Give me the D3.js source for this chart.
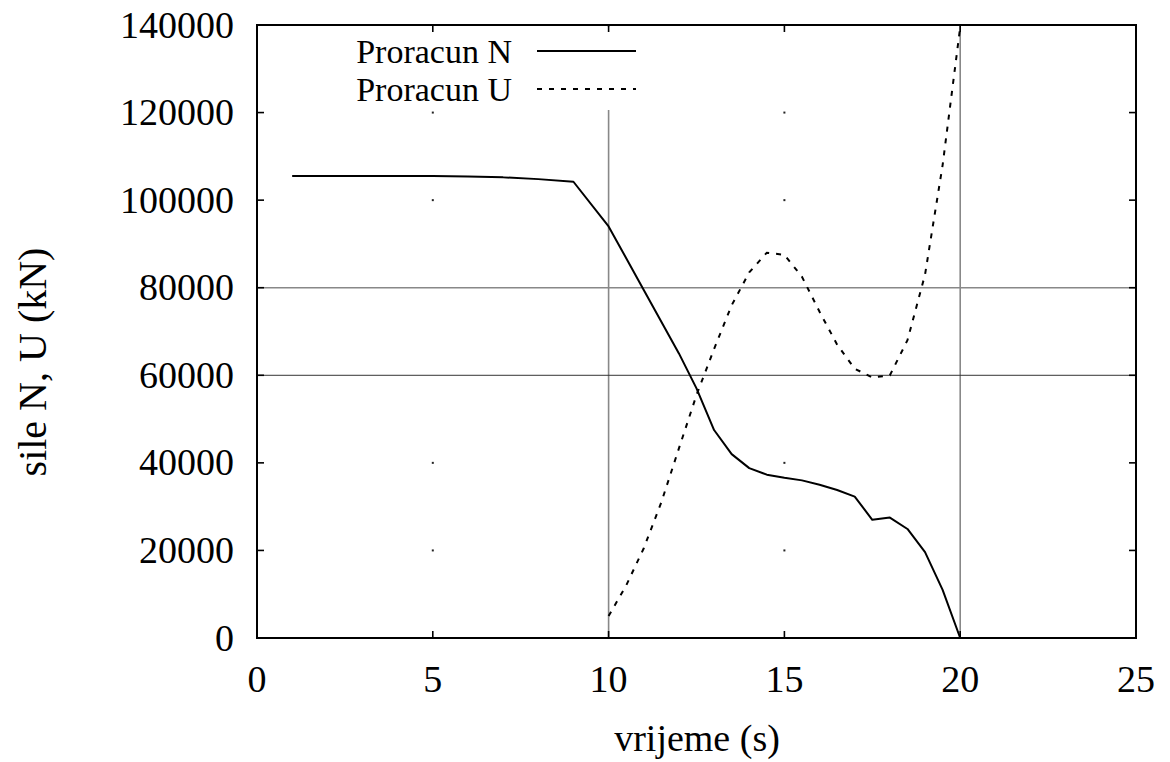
<!DOCTYPE html>
<html>
<head>
<meta charset="utf-8">
<script src="https://cdn.jsdelivr.net/npm/d3@7"></script>
<style>
  html, body { margin: 0; padding: 0; background: #fff; }
  svg { display: block; }
</style>
</head>
<body>
<svg id="chart" width="1170" height="762"></svg>
<script>
// ---- data ----
const xTicks = [0, 5, 10, 15, 20, 25];
const yTicks = [0, 20000, 40000, 60000, 80000, 100000, 120000, 140000];
const seriesNames = ["Proracun N", "Proracun U"];

const nTime  = [1, 5, 6, 7, 8, 9, 10, 11, 12, 12.5, 13, 13.5, 14, 14.5, 15, 15.5, 16, 16.5, 17, 17.5, 18, 18.5, 19, 19.5, 20];
const nForce = [105500, 105500, 105400, 105200, 104800, 104200, 94000, 79500, 65000, 57000, 47500, 42000, 38800, 37300, 36600, 36000, 35000, 33800, 32300, 27000, 27500, 24900, 19600, 11000, 0];

const uTime  = [10, 10.5, 11, 11.5, 12, 12.5, 13, 13.5, 14, 14.5, 15, 15.5, 16, 16.5, 17, 17.5, 18, 18.5, 19, 19.5, 20];
const uForce = [5000, 12000, 20500, 31000, 43300, 55500, 66000, 76000, 83500, 88000, 87500, 82500, 74500, 67000, 61500, 59500, 60000, 68000, 83000, 108000, 139500];

// grid lines drawn solid in the reference
const gridX = [10, 20];
const gridYGray = [80000];
const gridYDark = [60000];
// grid dots at remaining intersections
const dotX = [5, 15];
const dotY = [20000, 40000, 100000, 120000];

// ---- layout ----
const FONT = "'Liberation Serif', 'Tinos', 'Times New Roman', Times, 'DejaVu Serif', serif";
const svg = d3.select("#chart");
const L = 257, R = 1136, T = 25, B = 638;
const x = d3.scaleLinear().domain([0, 25]).range([L, R]);
const y = d3.scaleLinear().domain([0, 140000]).range([B, T]);
const FS = 38;

// grid
const g = svg.append("g");
g.selectAll(".gx").data(gridX).join("line")
  .attr("x1", d => x(d)).attr("x2", d => x(d)).attr("y1", T).attr("y2", B)
  .attr("stroke", "#888").attr("stroke-width", 1.6);
g.selectAll(".gyg").data(gridYGray).join("line")
  .attr("x1", L).attr("x2", R).attr("y1", d => y(d)).attr("y2", d => y(d))
  .attr("stroke", "#888").attr("stroke-width", 1.6);
g.selectAll(".gyd").data(gridYDark).join("line")
  .attr("x1", L).attr("x2", R).attr("y1", d => y(d)).attr("y2", d => y(d))
  .attr("stroke", "#333").attr("stroke-width", 1);
const dots = [];
dotX.forEach(a => dotY.forEach(b => dots.push([a, b])));
g.selectAll(".dot").data(dots).join("rect")
  .attr("x", d => x(d[0]) - 1).attr("y", d => y(d[1]) - 1)
  .attr("width", 2).attr("height", 2).attr("fill", "#222");

// legend background (opaque key box hides grid)
svg.append("rect").attr("x", 345).attr("y", 27).attr("width", 300).attr("height", 83).attr("fill", "#fff");

// curves
const line = d3.line().x(d => x(d[0])).y(d => y(d[1]));
const nData = nTime.map((t, i) => [t, nForce[i]]);
const uData = uTime.map((t, i) => [t, uForce[i]]);
svg.append("path").datum(nData).attr("d", line)
  .attr("fill", "none").attr("stroke", "#000").attr("stroke-width", 2).attr("stroke-linejoin", "round");
svg.append("path").datum(uData).attr("d", line)
  .attr("fill", "none").attr("stroke", "#000").attr("stroke-width", 2).attr("stroke-dasharray", "5,7");

// border
svg.append("rect").attr("x", L).attr("y", T).attr("width", R - L).attr("height", B - T)
  .attr("fill", "none").attr("stroke", "#000").attr("stroke-width", 2);

// ticks (inward, mirrored)
const tl = 7;
const tk = svg.append("g").attr("stroke", "#000").attr("stroke-width", 1.6);
tk.selectAll(".xb").data(xTicks).join("line")
  .attr("x1", d => x(d)).attr("x2", d => x(d)).attr("y1", B).attr("y2", B - tl);
tk.selectAll(".xt").data(xTicks).join("line")
  .attr("x1", d => x(d)).attr("x2", d => x(d)).attr("y1", T).attr("y2", T + tl);
tk.selectAll(".yl").data(yTicks).join("line")
  .attr("x1", L).attr("x2", L + tl).attr("y1", d => y(d)).attr("y2", d => y(d));
tk.selectAll(".yr").data(yTicks).join("line")
  .attr("x1", R).attr("x2", R - tl).attr("y1", d => y(d)).attr("y2", d => y(d));

// tick labels
svg.selectAll(".xl").data(xTicks).join("text")
  .attr("x", d => x(d)).attr("y", 692).attr("text-anchor", "middle")
  .attr("font-family", FONT).attr("font-size", FS).text(d => d);
svg.selectAll(".ylab").data(yTicks).join("text")
  .attr("x", 234).attr("y", d => y(d) + 12.5).attr("text-anchor", "end")
  .attr("font-family", FONT).attr("font-size", FS).text(d => d);

// axis titles
svg.append("text").attr("x", 697).attr("y", 751).attr("text-anchor", "middle")
  .attr("font-family", FONT).attr("font-size", FS).text("vrijeme (s)");
svg.append("text").attr("transform", "translate(46,362) rotate(-90)").attr("text-anchor", "middle")
  .attr("font-family", FONT).attr("font-size", 40).text("sile N, U (kN)");

// legend
const leg = svg.append("g");
const legY = [51, 89];
leg.selectAll("text").data(seriesNames).join("text")
  .attr("x", 512).attr("y", (d, i) => legY[i] + 12).attr("text-anchor", "end")
  .attr("font-family", FONT).attr("font-size", 34).text(d => d);
leg.append("line").attr("x1", 537).attr("x2", 636).attr("y1", legY[0]).attr("y2", legY[0])
  .attr("stroke", "#000").attr("stroke-width", 2);
leg.append("line").attr("x1", 537).attr("x2", 636).attr("y1", legY[1]).attr("y2", legY[1])
  .attr("stroke", "#000").attr("stroke-width", 2).attr("stroke-dasharray", "5,7");
</script>
</body>
</html>
